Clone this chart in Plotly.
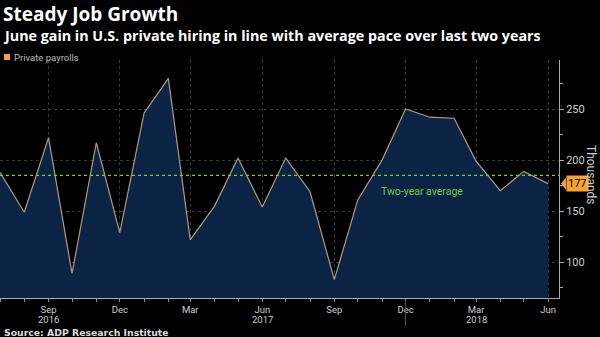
import plotly.graph_objects as go

months = ["2016-07-01", "2016-08-01", "2016-09-01", "2016-10-01", "2016-11-01", "2016-12-01",
          "2017-01-01", "2017-02-01", "2017-03-01", "2017-04-01", "2017-05-01", "2017-06-01",
          "2017-07-01", "2017-08-01", "2017-09-01", "2017-10-01", "2017-11-01", "2017-12-01",
          "2018-01-01", "2018-02-01", "2018-03-01", "2018-04-01", "2018-05-01", "2018-06-01"]
payrolls = [188, 149, 222, 89, 217, 129,
            246, 280, 122, 155, 202, 154,
            202, 169, 83, 161, 200, 250,
            242, 241, 199, 170, 189, 177]
two_year_avg = 185
last_value = 177

tick_dates = ["2016-09-01", "2016-12-01", "2017-03-01", "2017-06-01",
              "2017-09-01", "2017-12-01", "2018-03-01", "2018-06-01"]
tick_text = ["Sep", "Dec", "Mar", "Jun", "Sep", "Dec", "Mar", "Jun"]
year_dates = ["2016-09-01", "2017-06-01", "2018-03-01"]
year_text = ["2016", "2017", "2018"]
year_breaks = ["2016-12-01", "2017-12-01"]
y_ticks = [100, 150, 200, 250]

FONT = "Roboto"
TFONT = "Open Sans"
fig = go.Figure()
fig.add_trace(go.Scatter(
    x=months, y=payrolls, mode="lines", fill="tozeroy",
    fillcolor="#0b2446", line=dict(color="#b09c7c", width=1.2),
    name="Private payrolls", showlegend=False, hoverinfo="skip"))

fig.add_hline(y=two_year_avg, line=dict(color="#86c43c", width=1.2, dash="dot"))

W, H = 600, 337
L, R, T, B = 0, 41, 60, 39
ph = H - T - B
def py(p):
    return (H - B - p) / ph

shapes = []
for d in year_breaks:
    shapes.append(dict(type="line", xref="x", yref="paper", x0=d, x1=d,
                       y0=py(300), y1=py(326), line=dict(color="#555", width=1)))
shapes.append(dict(type="rect", xref="paper", yref="paper",
                   x0=4 / 559, x1=10 / 559, y0=py(60), y1=py(54),
                   fillcolor="#f5a42c", line=dict(width=0)))
shapes.append(dict(type="path", xref="paper", yref="y",
                   path=f"M {1+2/559},{last_value} L {1+7/559},{last_value+6} L {1+7/559},{last_value-6} Z",
                   fillcolor="#f5a42c", line=dict(width=0)))
fig.update_layout(shapes=shapes)

ann = [
    dict(text="<b>Steady Job Growth</b>", x=1 / 559, y=py(14), height=24,
         font=dict(size=19, color="#ffffff", family=TFONT)),
    dict(text="<b>June gain in U.S. private hiring in line with average pace over last two years</b>",
         x=1 / 559, y=py(35.5), height=18, font=dict(size=14.3, color="#ffffff", family=TFONT)),
    dict(text="Private payrolls", x=12 / 559, y=py(57), font=dict(size=9.5, color="#bbbbbb", family=FONT)),
    dict(text="<b>Source: ADP Research Institute</b>", x=2 / 559, y=py(332), height=11,
         font=dict(size=9.3, color="#dddddd", family="DejaVu Sans")),
]
annotations = [dict(a, xref="paper", yref="paper", xanchor="left", yanchor="middle",
                    showarrow=False) for a in ann]
for d, t in zip(year_dates, year_text):
    annotations.append(dict(text=t, xref="x", yref="paper", x=d, y=py(319),
                            xanchor="center", yanchor="middle", showarrow=False,
                            font=dict(size=9.5, color="#cccccc", family=FONT)))
annotations.append(dict(text="Two-year average", xref="x", yref="y", x="2017-12-22", y=169,
                        showarrow=False, font=dict(size=10.5, color="#7ec242", family=FONT)))
annotations.append(dict(text=str(last_value), xref="paper", yref="y", x=1 + 7 / 559, y=last_value,
                        xanchor="left", yanchor="middle", showarrow=False,
                        bgcolor="#f5a42c", borderpad=1,
                        font=dict(size=11, color="#000000", family=FONT)))
annotations.append(dict(text="Thousands", xref="paper", yref="paper", x=1 + 32 / 559, y=py(175),
                        textangle=90, showarrow=False, xanchor="center", yanchor="middle",
                        font=dict(size=12, color="#cccccc", family=FONT)))

fig.update_layout(
    width=W, height=H, margin=dict(l=L, r=R, t=T, b=B),
    paper_bgcolor="#000000", plot_bgcolor="#000000",
    annotations=annotations,
    xaxis=dict(range=["2016-07-01", "2018-06-15"], tickvals=tick_dates, ticktext=tick_text,
               showgrid=True, gridcolor="#3a3a3a", griddash="dot", gridwidth=1,
               ticks="outside", ticklen=3, tickcolor="#888",
               showline=True, linecolor="#aaaaaa", linewidth=1,
               tickfont=dict(size=9.5, color="#cccccc", family=FONT),
               minor=dict(dtick="M1", tick0="2016-07-01", ticks="outside", ticklen=3,
                          tickcolor="#888", showgrid=False),
               zeroline=False, fixedrange=True),
    yaxis=dict(range=[65, 298], side="right", tickvals=y_ticks,
               showgrid=True, gridcolor="#3a3a3a", griddash="dot", gridwidth=1,
               ticks="outside", ticklen=4, tickcolor="#aaa",
               showline=True, linecolor="#aaaaaa", linewidth=1,
               tickfont=dict(size=11, color="#cccccc", family=FONT),
               minor=dict(dtick=25, tick0=0, ticks="outside", ticklen=3, tickcolor="#aaa", showgrid=False),
               zeroline=False, fixedrange=True),
)

fig.write_html("out.html")
